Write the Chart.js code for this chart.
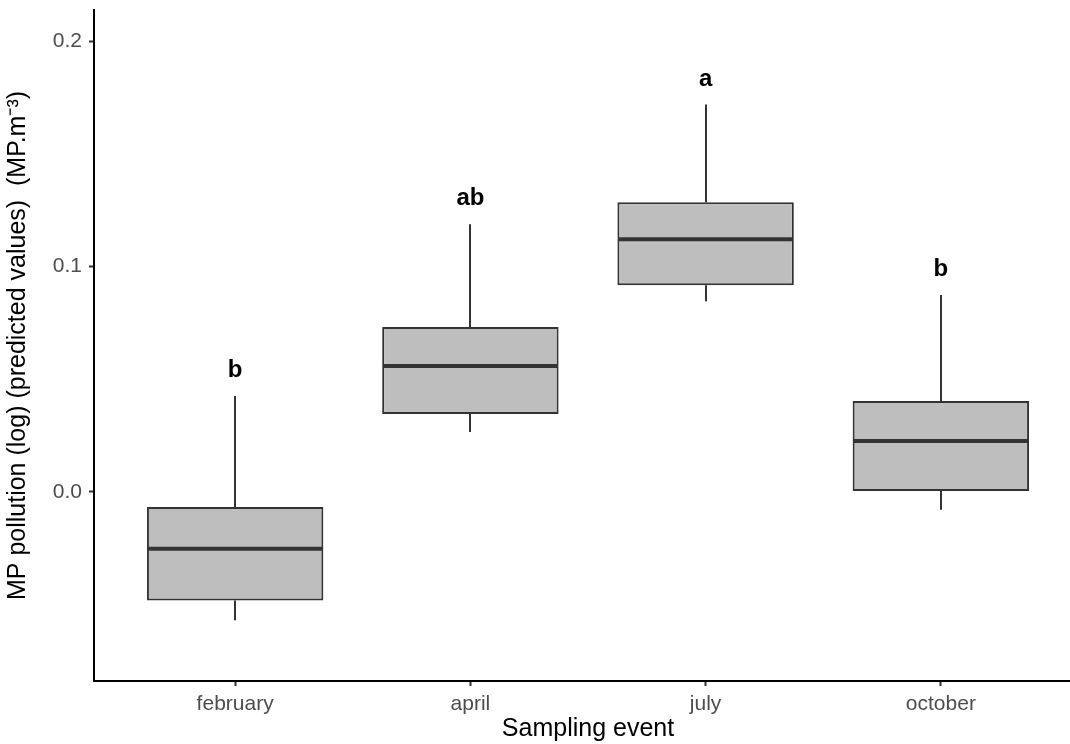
<!DOCTYPE html>
<html>
<head>
<meta charset="utf-8">
<script src="https://cdn.jsdelivr.net/npm/chart.js@4.4.1/dist/chart.umd.min.js"></script>
<style>
  html, body { margin: 0; padding: 0; background: #fff; overflow: hidden; }
  #wrap { width: 1082px; height: 744px; }
</style>
</head>
<body>
<div id="wrap"><canvas id="mycanvas"></canvas></div>
<script>
// values
var months = ['february', 'april', 'july', 'october'];
var whiskerLow = [-0.057, 0.0266, 0.0847, -0.008];
var q1 = [-0.0483, 0.0346, 0.0918, 0.0004];
var median = [-0.0253, 0.0559, 0.1122, 0.0226];
var q3 = [-0.0067, 0.0732, 0.1286, 0.0404];
var whiskerHigh = [0.0426, 0.1188, 0.172, 0.0874];
var letters = ['b', 'ab', 'a', 'b'];
var yTicks = [0, 0.1, 0.2];

var FONT = '"Liberation Sans", Arial, sans-serif';
var LINE = '#333333';

var boxData = [];
for (var i in months) {
  boxData.push({x: Number(i) + 1, y: [q1[i], q3[i]]});
}

// whiskers under the boxes, medians and letters over them
var boxPlot = {
  id: 'boxPlot',
  beforeDatasetsDraw: function(chart) {
    var ctx = chart.ctx, xs = chart.scales.x, ys = chart.scales.y;
    ctx.save();
    ctx.strokeStyle = LINE;
    ctx.lineWidth = 2;
    for (var i = 0; i < months.length; i++) {
      var px = Math.round(xs.getPixelForValue(i + 1));
      ctx.beginPath();
      ctx.moveTo(px, ys.getPixelForValue(whiskerHigh[i]));
      ctx.lineTo(px, ys.getPixelForValue(q3[i]));
      ctx.moveTo(px, ys.getPixelForValue(q1[i]));
      ctx.lineTo(px, ys.getPixelForValue(whiskerLow[i]));
      ctx.stroke();
    }
    ctx.restore();
  },
  afterDatasetsDraw: function(chart) {
    var ctx = chart.ctx, ys = chart.scales.y;
    var meta = chart.getDatasetMeta(0);
    ctx.save();
    for (var i = 0; i < months.length; i++) {
      var bar = meta.data[i];
      var half = bar.width / 2;
      var py = ys.getPixelForValue(median[i]);
      ctx.strokeStyle = LINE;
      ctx.lineWidth = 4;
      ctx.beginPath();
      ctx.moveTo(bar.x - half + 1, py);
      ctx.lineTo(bar.x + half - 1, py);
      ctx.stroke();

      ctx.fillStyle = '#000';
      ctx.font = 'bold 24px ' + FONT;
      ctx.textAlign = 'center';
      ctx.textBaseline = 'alphabetic';
      ctx.fillText(letters[i], bar.x, ys.getPixelForValue(whiskerHigh[i]) - 19);
    }
    ctx.restore();
  }
};

var ctx = document.getElementById('mycanvas');

var GenericGraph = new Chart(ctx, {
  type: 'bar',
  data: {
    datasets: [{
      label: 'box',
      data: boxData,
      backgroundColor: '#bebebe',
      borderColor: LINE,
      borderWidth: 2,
      borderSkipped: false,
      barPercentage: 0.75,
      categoryPercentage: 1
    }]
  },
  options: {
    responsive: true,
    maintainAspectRatio: false,
    animation: false,
    layout: { padding: { top: 10, right: 0, bottom: 0, left: 0 } },
    plugins: {
      legend: { display: false },
      tooltip: { enabled: false }
    },
    scales: {
      x: {
        type: 'linear',
        min: 0.4,
        max: 4.6,
        offset: false,
        afterBuildTicks: function(scale) {
          scale.ticks = months.map(function(m, i) { return {value: i + 1}; });
        },
        afterFit: function(scale) {
          scale.height = 63;
          scale.paddingLeft = 0;
          scale.paddingRight = 0;
        },
        ticks: {
          color: '#4d4d4d',
          font: { family: FONT, size: 21 },
          padding: 6,
          maxRotation: 0,
          callback: function(v) { return months[v - 1]; }
        },
        grid: { offset: false, drawOnChartArea: false, drawTicks: true, tickLength: 5, tickColor: LINE, tickWidth: 2 },
        border: { color: '#000', width: 2 },
        title: {
          display: true,
          text: 'Sampling event',
          color: '#000',
          font: { family: FONT, size: 25 },
          padding: { top: 0, bottom: 0 }
        }
      },
      y: {
        min: -0.084,
        max: 0.214,
        afterBuildTicks: function(scale) {
          scale.ticks = yTicks.map(function(v) { return {value: v}; });
        },
        afterFit: function(scale) {
          scale.width = 94;
          scale.paddingTop = 0;
          scale.paddingBottom = 0;
        },
        ticks: {
          color: '#4d4d4d',
          font: { family: FONT, size: 21 },
          padding: 7,
          callback: function(v) { return v.toFixed(1); }
        },
        grid: { drawOnChartArea: false, drawTicks: true, tickLength: 5, tickColor: LINE, tickWidth: 2 },
        border: { color: '#000', width: 2 },
        title: {
          display: true,
          text: 'MP pollution (log) (predicted values)  (MP.m\u207B\u00B3)',
          color: '#000',
          font: { family: FONT, size: 25 },
          padding: { top: 3, bottom: 0 }
        }
      }
    }
  },
  plugins: [boxPlot]
});
</script>
</body>
</html>
